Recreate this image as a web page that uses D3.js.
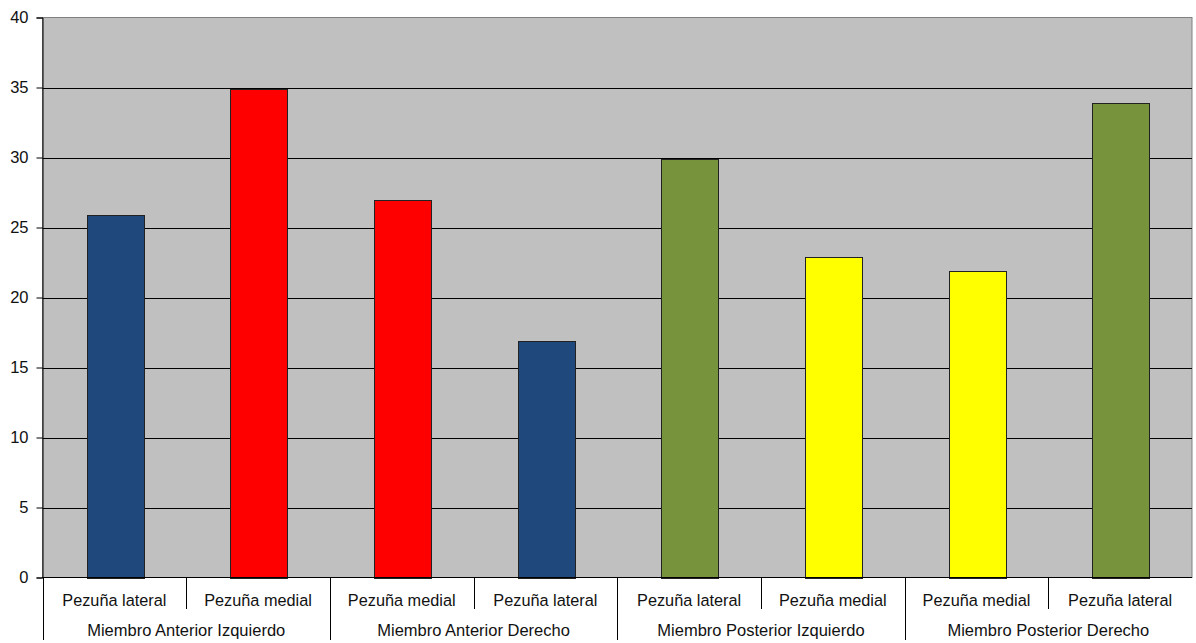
<!DOCTYPE html>
<html>
<head>
<meta charset="utf-8">
<script src="https://cdn.jsdelivr.net/npm/d3@7"></script>
<style>
  body { margin: 0; background: #fff; }
  svg { display: block; }
  text { font-family: "Liberation Sans", Arial, sans-serif; fill: #111; }
</style>
</head>
<body>
<svg id="chart" width="1196" height="643"></svg>
<script>
// Hoof categories and their limb groups
const categories = ["Pezuña lateral", "Pezuña medial", "Pezuña medial", "Pezuña lateral",
                    "Pezuña lateral", "Pezuña medial", "Pezuña medial", "Pezuña lateral"];
const groups = ["Miembro Anterior Izquierdo", "Miembro Anterior Derecho",
                "Miembro Posterior Izquierdo", "Miembro Posterior Derecho"];
const values = [26, 35, 27, 17, 30, 23, 22, 34];
const barColors = ["#1f497d", "#ff0000", "#ff0000", "#1f497d",
                   "#77933c", "#ffff00", "#ffff00", "#77933c"];
const yTicks = [0, 5, 10, 15, 20, 25, 30, 35, 40];

const svg = d3.select("#chart");
const m = { left: 42.5, right: 1192, top: 17.5, bottom: 577.5 };

const idx = d3.range(values.length);
const x = d3.scaleBand().domain(idx).range([m.left, m.right]).paddingInner(0).paddingOuter(0);
const y = d3.scaleLinear().domain([0, 40]).range([m.bottom, m.top]);

// plot background
svg.append("rect")
  .attr("x", m.left).attr("y", m.top)
  .attr("width", m.right - m.left).attr("height", m.bottom - m.top)
  .attr("fill", "#c0c0c0").attr("stroke", "#808080").attr("stroke-width", 1);

// horizontal gridlines
svg.append("g").selectAll("line")
  .data(yTicks.filter(t => t > 0 && t < 40))
  .join("line")
  .attr("x1", m.left).attr("x2", m.right)
  .attr("y1", d => Math.round(y(d)) + 0.5).attr("y2", d => Math.round(y(d)) + 0.5)
  .attr("stroke", "#000").attr("stroke-width", 1);

// bars
const barW = x.bandwidth() * 0.4;
svg.append("g").selectAll("rect")
  .data(idx)
  .join("rect")
  .attr("x", i => Math.round(x(i) + (x.bandwidth() - barW) / 2 + 1) + 0.5)
  .attr("y", i => Math.round(y(values[i])) + 1.5)
  .attr("width", Math.round(barW))
  .attr("height", i => Math.round(y(0)) - Math.round(y(values[i])) - 1)
  .attr("fill", i => barColors[i])
  .attr("stroke", "#222").attr("stroke-width", 1);

// y axis
const yAxis = d3.axisLeft(y).tickValues(yTicks).tickSize(6).tickPadding(8).tickFormat(d3.format("d"));
const gy = svg.append("g").attr("transform", `translate(${m.left},0)`).call(yAxis);
gy.select(".domain").attr("stroke", "#000");
gy.selectAll(".tick line").attr("stroke", "#000");
gy.selectAll(".tick text").style("font-size", "16.5px").attr("fill", "#111");

// x axis baseline
svg.append("line")
  .attr("x1", m.left).attr("x2", m.right)
  .attr("y1", m.bottom).attr("y2", m.bottom)
  .attr("stroke", "#000");

// category separators (short) and group separators (long)
svg.append("g").selectAll("line")
  .data(idx)
  .join("line")
  .attr("x1", i => Math.round(x(i)) + 0.5).attr("x2", i => Math.round(x(i)) + 0.5)
  .attr("y1", m.bottom)
  .attr("y2", i => i % 2 === 0 ? 640 : 609)
  .attr("stroke", "#000");

// category labels
svg.append("g").selectAll("text")
  .data(idx)
  .join("text")
  .attr("x", i => x(i) + x.bandwidth() / 2)
  .attr("y", 600)
  .attr("text-anchor", "middle")
  .attr("dominant-baseline", "central")
  .style("font-size", "16.3px")
  .text(i => categories[i]);

// group labels
svg.append("g").selectAll("text")
  .data(groups)
  .join("text")
  .attr("x", (d, g) => x(g * 2) + x.bandwidth())
  .attr("y", 630)
  .attr("text-anchor", "middle")
  .attr("dominant-baseline", "central")
  .style("font-size", "16.5px")
  .text(d => d);
</script>
</body>
</html>
